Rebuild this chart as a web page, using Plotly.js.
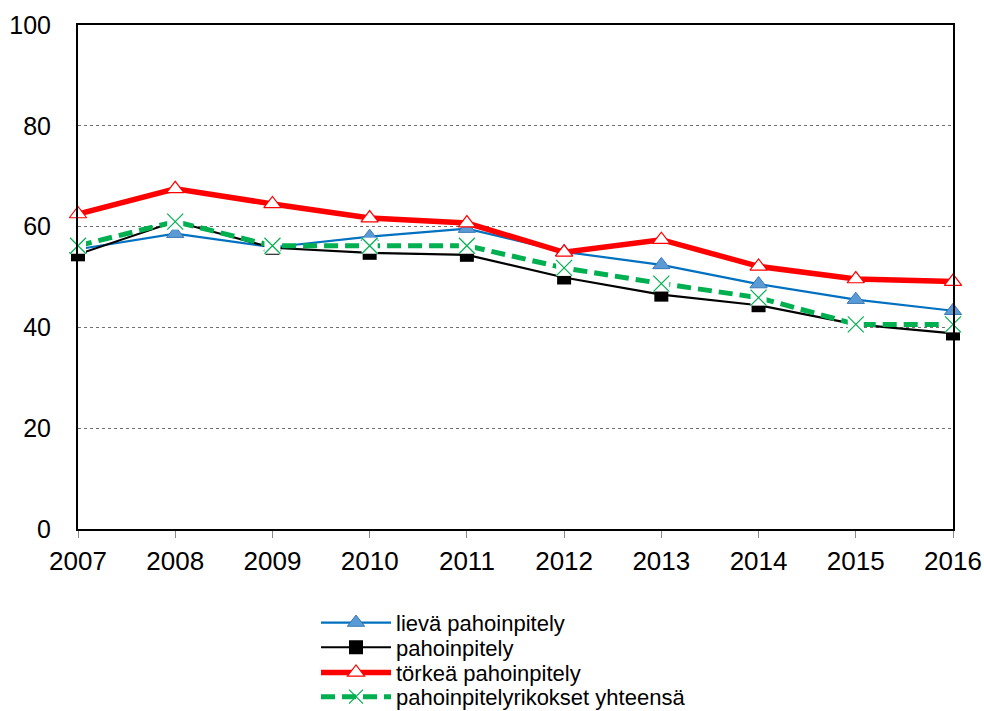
<!DOCTYPE html>
<html>
<head>
<meta charset="utf-8">
<script src="https://cdn.plot.ly/plotly-3.0.1.min.js"></script>
<style>html,body{margin:0;padding:0;background:#fff;}#chart{width:984px;height:711px;}</style>
</head>
<body>
<div id="chart"></div>
<script>
const years = ["2007","2008","2009","2010","2011","2012","2013","2014","2015","2016"];
const lieva = [55.5, 58.6, 55.9, 58.0, 59.6, 55.0, 52.4, 48.6, 45.5, 43.3];
const pahoinpitely = [54.5, 61.0, 55.8, 54.8, 54.4, 49.9, 46.5, 44.4, 40.6, 38.8];
const torkea = [62.5, 67.5, 64.5, 61.7, 60.7, 54.9, 57.4, 52.1, 49.6, 49.1];
const yhteensa = [56.2, 61.0, 56.2, 56.2, 56.2, 51.8, 48.7, 45.9, 40.6, 40.6];
const names = ["lievä pahoinpitely", "pahoinpitely", "törkeä pahoinpitely", "pahoinpitelyrikokset yhteensä"];
const yTicks = [0, 20, 40, 60, 80, 100];

const traces = [
  {x: years, y: lieva, name: names[0], mode: "lines+markers", legend: "legend", cliponaxis: false,
   line: {color: "#0070C0", width: 2.2},
   marker: {symbol: "triangle-up", size: 15, color: "#5B9BD5", line: {color: "#3A78B5", width: 1}}},
  {x: years, y: pahoinpitely, name: names[1], mode: "lines+markers", legend: "legend2", cliponaxis: false,
   line: {color: "#000000", width: 2.2},
   marker: {symbol: "square", size: 14, color: "#000000"}},
  {x: years, y: torkea, name: names[2], mode: "lines+markers", legend: "legend3", cliponaxis: false,
   line: {color: "#FF0000", width: 5.5},
   marker: {symbol: "triangle-up", size: 15, color: "#FFFFFF", line: {color: "#FF0000", width: 1.2}}},
  {x: years, y: yhteensa, name: names[3], mode: "lines+markers", legend: "legend4", cliponaxis: false,
   line: {color: "#00B050", width: 5, dash: "14px,7px"},
   marker: {symbol: "x-thin-open", size: 14, color: "#00B050", line: {color: "#00B050", width: 1.2}}},
  {x: years, y: yhteensa, name: names[3], mode: "markers", showlegend: false, hoverinfo: "skip", cliponaxis: false,
   marker: {symbol: "square", size: 16, color: "#FFFFFF", line: {width: 0}}},
  {x: years, y: yhteensa, name: names[3], mode: "markers", showlegend: false, cliponaxis: false,
   marker: {symbol: "x-thin-open", size: 16, color: "#00B050", line: {color: "#00B050", width: 1.2}}}
];

const legBase = {x: 0.272, xanchor: "left", yanchor: "middle", itemwidth: 70,
                 font: {size: 22}, bgcolor: "rgba(0,0,0,0)"};
const legYs = [-0.186, -0.235, -0.285, -0.333];

const layout = {
  width: 984, height: 711,
  margin: {l: 78, r: 31, t: 25, b: 182, autoexpand: false},
  paper_bgcolor: "#FFFFFF", plot_bgcolor: "#FFFFFF",
  font: {family: "Liberation Sans, Arial, sans-serif", color: "#000000"},
  showlegend: true,
  legend: Object.assign({}, legBase, {y: legYs[0]}),
  legend2: Object.assign({}, legBase, {y: legYs[1]}),
  legend3: Object.assign({}, legBase, {y: legYs[2]}),
  legend4: Object.assign({}, legBase, {y: legYs[3]}),
  xaxis: {type: "category", range: [0, 9], showgrid: false,
          showline: true, linecolor: "#000", linewidth: 1.5, mirror: true,
          ticks: "outside", ticklen: 7, tickcolor: "#888", ticklabelstandoff: 1,
          tickfont: {size: 26}, zeroline: false},
  yaxis: {range: [0, 100], tickvals: yTicks, showgrid: true,
          gridcolor: "#707070", griddash: "dot", gridwidth: 1,
          showline: true, linecolor: "#000", linewidth: 2, mirror: true,
          ticks: "outside", ticklen: 20, tickcolor: "rgba(0,0,0,0)",
          tickfont: {size: 25}, zeroline: false}
};

Plotly.newPlot("chart", traces, layout, {displayModeBar: false});
</script>
</body>
</html>
